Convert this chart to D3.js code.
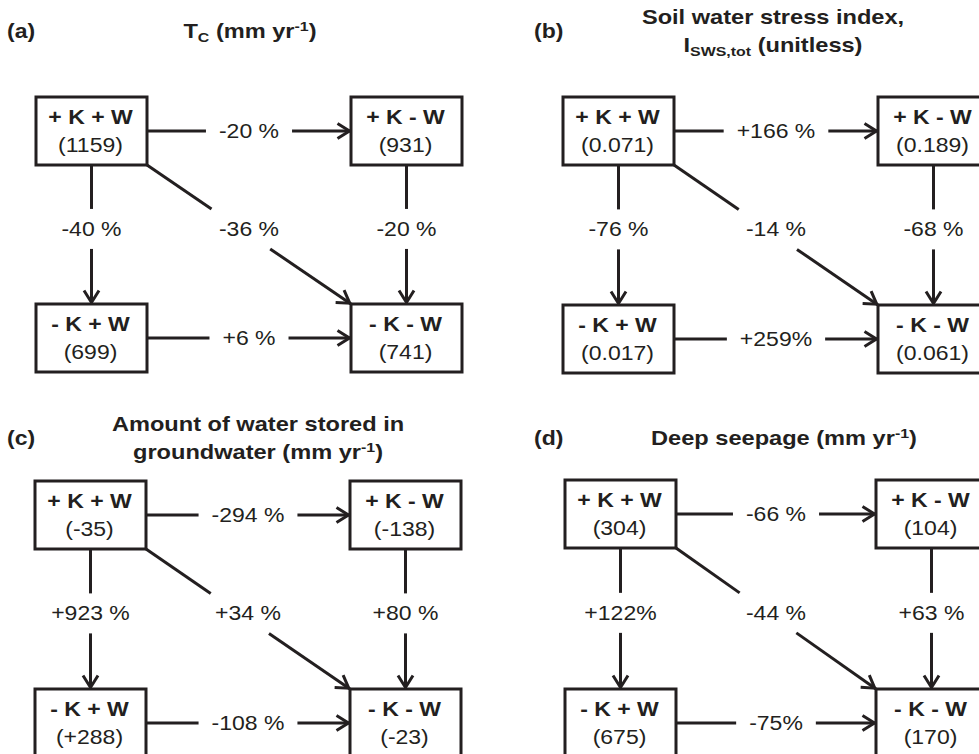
<!DOCTYPE html>
<html lang="en">
<head>
<meta charset="UTF-8">
<title>K and W scenario changes</title>
<style>
  body { margin: 0; background: #fff; }
  svg { display: block; }
  text { font-family: 'Liberation Sans', Arial, sans-serif; fill: #231f20; }
  .box { fill: #fff; stroke: #231f20; stroke-width: 3; }
  .link { fill: none; stroke: #231f20; stroke-width: 3; }
</style>
</head>
<body>
<div id="chart"></div>
<script src="https://cdnjs.cloudflare.com/ajax/libs/d3/7.8.5/d3.min.js"></script>
<script>
// scenarios, in order: top-left, top-right, bottom-left, bottom-right
const scenarioNames = ['+ K + W', '+ K - W', '- K + W', '- K - W'];
const kLevel = ['+K', '+K', '-K', '-K'];
const wLevel = ['+W', '-W', '+W', '-W'];

const transpiration = [1159, 931, 699, 741];
const soilStress = [0.071, 0.189, 0.017, 0.061];
const groundwater = [-35, -138, 288, -23];
const seepage = [304, 104, 675, 170];

// from -> to : top, left, diagonal, right, bottom
const links = [[0, 1], [0, 2], [0, 3], [1, 3], [2, 3]];
const transpirationChange = ['-20 %', '-40 %', '-36 %', '-20 %', '+6 %'];
const soilStressChange = ['+166 %', '-76 %', '-14 %', '-68 %', '+259%'];
const groundwaterChange = ['-294 %', '+923 %', '+34 %', '+80 %', '-108 %'];
const seepageChange = ['-66 %', '+122%', '-44 %', '+63 %', '-75%'];

const panelTags = ['(a)', '(b)', '(c)', '(d)'];
const panelTitles = [
  [[{t: 'T'}, {t: 'C', sub: true}, {t: ' (mm yr'}, {t: '-1', sup: true}, {t: ')'}]],
  [[{t: 'Soil water stress index,'}],
   [{t: 'I'}, {t: 'SWS,tot', sub: true}, {t: ' (unitless)'}]],
  [[{t: 'Amount of water stored in'}],
   [{t: 'groundwater (mm yr'}, {t: '-1', sup: true}, {t: ')'}]],
  [[{t: 'Deep seepage (mm yr'}, {t: '-1', sup: true}, {t: ')'}]]
];

// plain hyphen for the minus sign, as in the source figure
const locale = d3.formatLocale({decimal: '.', thousands: '', grouping: [3], currency: ['', ''], minus: '-'});

const panels = [
  {values: transpiration, fmt: locale.format('d'), changes: transpirationChange},
  {values: soilStress, fmt: locale.format('.3f'), changes: soilStressChange},
  {values: groundwater, fmt: locale.format('+d'), changes: groundwaterChange},
  {values: seepage, fmt: locale.format('d'), changes: seepageChange}
];

// layout of each panel (pixels)
const layout = [
  {x0: 36, y0: 97, dx: 315, dy: 207, tagX: 7, tagY: 38, titleX: 250, titleY: [38]},
  {x0: 563, y0: 97, dx: 315, dy: 208, tagX: 534, tagY: 38, titleX: 773, titleY: [24, 52]},
  {x0: 35, y0: 481, dx: 315, dy: 208, tagX: 7, tagY: 445, titleX: 258, titleY: [431, 459]},
  {x0: 565, y0: 480, dx: 311, dy: 209, tagX: 534, tagY: 445, titleX: 784, titleY: [445]}
];

const width = 979, height = 754;
const boxW = 111, boxH = 68;
const SX = 1.18;          // the source lettering is stretched sideways
const fontSize = 19.5;

const svg = d3.select('#chart')
  .append('svg')
    .attr('width', width)
    .attr('height', height);

function stretchedText(g, x, y, anchor) {
  return g.append('text')
    .attr('transform', `translate(${x},${y}) scale(${SX},1)`)
    .attr('text-anchor', anchor || 'middle')
    .style('font-size', fontSize + 'px');
}

function addRuns(text, runs) {
  let shift = 0;
  runs.forEach(r => {
    const ts = text.append('tspan').text(r.t);
    let target = r.sub ? 4 : r.sup ? -7 : 0;
    ts.attr('dy', target - shift);
    shift = target;
    if (r.sub || r.sup) ts.style('font-size', '13.5px');
  });
}

panels.forEach((p, pi) => {
  const L = layout[pi];
  const g = svg.append('g').attr('class', 'panel');

  const x = d3.scalePoint().domain(['+W', '-W']).range([L.x0, L.x0 + L.dx]);
  const y = d3.scalePoint().domain(['+K', '-K']).range([L.y0, L.y0 + L.dy]);

  // tag and title
  stretchedText(g, L.tagX, L.tagY, 'start')
    .style('font-weight', 'bold')
    .text(panelTags[pi]);

  panelTitles[pi].forEach((line, li) => {
    const t = stretchedText(g, L.titleX, L.titleY[li])
      .style('font-weight', 'bold')
      .style('font-size', '20px');
    addRuns(t, line);
  });

  // boxes
  const nodes = scenarioNames.map((name, i) => ({
    name: name,
    value: p.values[i],
    bx: x(wLevel[i]),
    by: y(kLevel[i])
  }));

  // links
  links.forEach(([a, b], li) => {
    const A = nodes[a], B = nodes[b];
    let sx, sy, ex, ey, kind;
    if (kLevel[a] === kLevel[b]) {
      kind = 'h';
      sx = A.bx + boxW; sy = A.by + boxH / 2;
      ex = B.bx; ey = B.by + boxH / 2;
    } else if (wLevel[a] === wLevel[b]) {
      kind = 'v';
      sx = A.bx + boxW / 2; sy = A.by + boxH;
      ex = B.bx + boxW / 2; ey = B.by;
    } else {
      kind = 'd';
      sx = A.bx + boxW; sy = A.by + boxH;
      ex = B.bx; ey = B.by;
    }

    let lx, ly;
    if (kind === 'h') {
      lx = (sx + ex) / 2; ly = sy;
    } else {
      ly = sy + 0.46 * (ey - sy);
      lx = kind === 'v' ? sx : (sx + ex) / 2;
    }

    const label = stretchedText(g, lx, ly)
      .attr('dy', '0.35em')
      .text(p.changes[li]);

    let t0, t1;
    if (kind === 'h') {
      const half = label.node().getComputedTextLength() * SX / 2 + 13;
      t0 = (lx - half - sx) / (ex - sx);
      t1 = (lx + half - sx) / (ex - sx);
    } else {
      t0 = (ly - 20 - sy) / (ey - sy);
      t1 = (ly + 20 - sy) / (ey - sy);
    }
    const pt = t => [sx + t * (ex - sx), sy + t * (ey - sy)];
    const line = d3.line();

    g.append('path').attr('class', 'link').attr('d', line([pt(0), pt(t0)]));
    g.append('path').attr('class', 'link').attr('d', line([pt(t1), pt(1)]));

    // open arrow head
    const ang = Math.atan2(ey - sy, ex - sx);
    const back = 12, half = 7.5;
    const tip = [ex - 1.5 * Math.cos(ang), ey - 1.5 * Math.sin(ang)];
    const arm = s => [
      tip[0] - back * Math.cos(ang) - s * half * Math.sin(ang),
      tip[1] - back * Math.sin(ang) + s * half * Math.cos(ang)
    ];
    g.append('path').attr('class', 'link')
      .attr('stroke-linejoin', 'miter')
      .attr('d', line([arm(1), tip, arm(-1)]));
  });

  const box = g.selectAll('g.node')
    .data(nodes)
    .enter()
    .append('g')
      .attr('class', 'node');

  box.append('rect')
    .attr('class', 'box')
    .attr('x', d => d.bx)
    .attr('y', d => d.by)
    .attr('width', boxW)
    .attr('height', boxH);

  box.each(function(d) {
    const b = d3.select(this);
    stretchedText(b, d.bx + boxW / 2 - 1, d.by + 27)
      .style('font-weight', 'bold')
      .text(d.name);
    stretchedText(b, d.bx + boxW / 2 - 1, d.by + 55)
      .text('(' + p.fmt(d.value) + ')');
  });
});
</script>
</body>
</html>
